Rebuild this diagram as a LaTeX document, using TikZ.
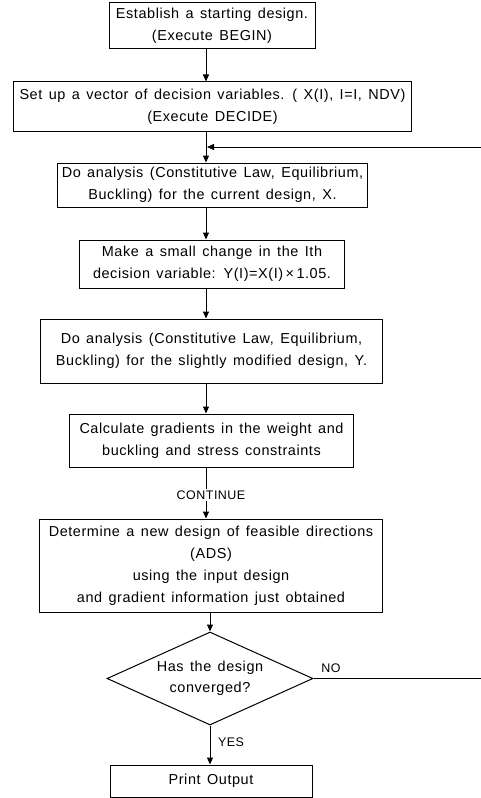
\documentclass[tikz,border=0pt]{standalone}
\usepackage{fontspec}
\setmainfont{Liberation Sans}[LetterSpace=4,WordSpace=1.4]
\usetikzlibrary{shapes.geometric,arrows.meta}
\begin{document}
\begin{tikzpicture}[x=1bp,y=-1bp,
  box/.style={draw,line width=1bp,inner sep=0pt,align=center,font=\fontsize{14.5}{22}\selectfont},
  dec/.style={diamond,draw,line width=1bp,inner sep=0pt,align=center,aspect=2.215,font=\fontsize{14.5}{21}\selectfont},
  lab/.style={inner sep=1bp,font=\fontsize{12.5}{14}\selectfont},
  arr/.style={line width=1bp,-{Triangle[length=7bp,width=6bp]}},
  ln/.style={line width=1bp}]
\useasboundingbox (0,0) rectangle (481,798);
\coordinate (ax) at (206,0);
\coordinate (far) at (492,0);
\coordinate (loopin) at (207,147);
\node[box,minimum width=206bp,minimum height=46bp] (b1) at (212,26)
  {Establish a starting design.\\(Execute BEGIN)};
\node[box,minimum width=397bp,minimum height=49bp] (b2) at (212.5,106.5)
  {Set up a vector of decision variables. ( X(I), I=I, NDV)\\(Execute DECIDE)};
\node[box,minimum width=309bp,minimum height=44bp] (b3) at (212.5,185)
  {Do analysis (Constitutive Law, Equilibrium,\\Buckling) for the current design, X.};
\node[box,minimum width=264bp,minimum height=48bp] (b4) at (212,264)
  {Make a small change in the Ith\\decision variable: Y(I)=X(I)\,×\,1.05.};
\node[box,minimum width=341bp,minimum height=64bp] (b5) at (211.5,351)
  {Do analysis (Constitutive Law, Equilibrium,\\Buckling) for the slightly modified design, Y.};
\node[box,minimum width=283bp,minimum height=53bp] (b6) at (211.5,440.5)
  {Calculate gradients in the weight and\\buckling and stress constraints};
\node[lab] (cont) at (211,495) {CONTINUE};
\node[box,minimum width=343bp,minimum height=93bp] (b7) at (211,565.5)
  {Determine a new design of feasible directions\\(ADS)\\using the input design\\and gradient information just obtained};
\node[dec,minimum width=206bp,minimum height=93bp] (dia) at (210,678.5)
  {Has the design\\converged?};
\node[box,minimum width=202bp,minimum height=32bp] (b8) at (211,781) {Print Output};
\node[lab] (no) at (331,668) {NO};
\node[lab] (yes) at (231,742) {YES};
\draw[arr] (b1.south -| ax) -- (b2.north -| ax);
\draw[arr] (b2.south -| ax) -- (b3.north -| ax);
\draw[arr] (b3.south -| ax) -- (b4.north -| ax);
\draw[arr] (b4.south -| ax) -- (b5.north -| ax);
\draw[arr] (b5.south -| ax) -- (b6.north -| ax);
\draw[ln] (b6.south -| ax) -- (cont.north -| ax);
\draw[arr] (cont.south -| ax) -- (b7.north -| ax);
\draw[arr] (b7.south -| dia.north) -- (dia.north);
\draw[arr] (dia.south) -- (b8.north -| dia.south);
\draw[arr] (dia.east) -- (dia.east -| far) |- (loopin);
\end{tikzpicture}
\end{document}
